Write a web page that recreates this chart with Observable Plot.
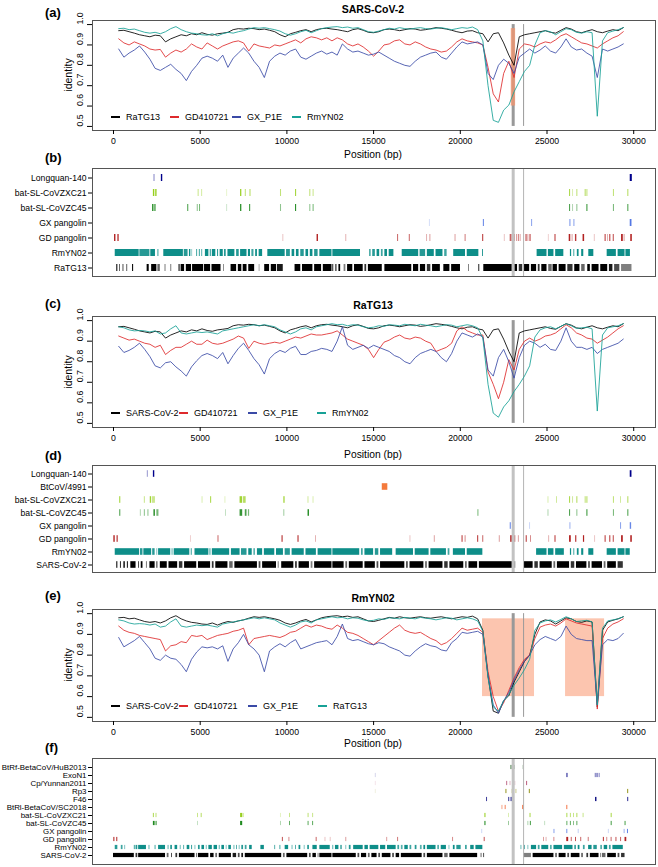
<!DOCTYPE html>
<html>
<head>
<meta charset="utf-8">
<script src="https://cdn.jsdelivr.net/npm/d3@7"></script>
<script src="https://cdn.jsdelivr.net/npm/@observablehq/plot@0.6"></script>
<style>
  html,body{margin:0;padding:0;background:#fff;}
  #fig{position:relative;width:658px;height:867px;overflow:hidden;font-family:"Liberation Sans",Arial,Helvetica,sans-serif;color:#000;}
  .abs{position:absolute;white-space:nowrap;line-height:1;}
  .plab{font-weight:bold;font-size:13px;transform:translateY(-50%);}
  .ptitle{font-weight:bold;font-size:10.5px;transform:translate(-50%,-50%);}
  .xlab{font-size:10.3px;transform:translate(-50%,-50%);}
  .ylab{font-size:10.5px;transform:translate(-50%,-50%) rotate(-90deg);}
  .legtxt{font-size:9px;transform:translateY(-50%);}
  .legline{height:2px;transform:translateY(-50%);}
</style>
</head>
<body>
<div id="fig"></div>
<script>
// ---------------- DATA ----------------
const windowPos = [300,600,900,1200,1500,1800,2100,2400,2700,3000,
3300,3600,3900,4200,4500,4800,5100,5400,5700,6000,
6300,6600,6900,7200,7500,7800,8100,8400,8700,9000,
9300,9600,9900,10200,10500,10800,11100,11400,11700,12000,
12300,12600,12900,13200,13500,13800,14100,14400,14700,15000,
15300,15600,15900,16200,16500,16800,17100,17400,17700,18000,
18300,18600,18900,19200,19500,19800,20100,20400,20700,21000,
21300,21600,21900,22200,22500,22800,23100,23400,23700,24000,
24300,24600,24900,25200,25500,25800,26100,26400,26700,27000,
27300,27600,27900,28200,28500,28800,29100,29400];

// SARS-CoV-2 vs RaTG13
const idSARS2_RaTG13 = [0.970,0.972,0.965,0.958,0.950,0.945,0.940,0.948,0.945,0.915,
0.930,0.940,0.950,0.945,0.955,0.950,0.960,0.952,0.948,0.955,
0.958,0.962,0.975,0.980,0.978,0.982,0.980,0.975,0.978,0.972,
0.965,0.950,0.940,0.955,0.962,0.970,0.975,0.965,0.975,0.980,
0.982,0.978,0.975,0.970,0.965,0.975,0.980,0.972,0.962,0.960,
0.965,0.975,0.978,0.975,0.970,0.975,0.980,0.978,0.972,0.975,
0.980,0.985,0.982,0.978,0.972,0.965,0.960,0.968,0.970,0.960,
0.955,0.915,0.955,0.960,0.910,0.850,0.800,0.940,0.950,0.955,
0.960,0.965,0.970,0.962,0.958,0.972,0.985,0.978,0.965,0.960,
0.968,0.975,0.965,0.960,0.968,0.975,0.970,0.985];
// SARS-CoV-2 vs RmYN02
const idSARS2_RmYN02 = [0.980,0.982,0.975,0.978,0.970,0.962,0.958,0.962,0.955,0.965,
0.980,0.990,0.975,0.965,0.958,0.955,0.950,0.948,0.955,0.945,
0.955,0.962,0.958,0.965,0.970,0.978,0.985,0.982,0.985,0.980,
0.975,0.968,0.955,0.948,0.955,0.965,0.972,0.960,0.970,0.980,
0.985,0.988,0.990,0.985,0.988,0.982,0.985,0.975,0.965,0.962,
0.968,0.975,0.982,0.978,0.985,0.980,0.978,0.982,0.985,0.980,
0.978,0.982,0.985,0.980,0.975,0.980,0.985,0.982,0.988,0.975,
0.920,0.700,0.530,0.520,0.580,0.605,0.670,0.720,0.770,0.800,
0.900,0.960,0.970,0.965,0.950,0.965,0.980,0.975,0.962,0.958,
0.965,0.960,0.550,0.920,0.960,0.968,0.975,0.985];
// SARS-CoV-2 vs GD410721
const idSARS2_GD = [0.930,0.910,0.900,0.915,0.905,0.895,0.880,0.875,0.878,0.840,
0.860,0.875,0.865,0.880,0.905,0.890,0.880,0.910,0.895,0.880,
0.895,0.905,0.915,0.920,0.910,0.870,0.905,0.895,0.890,0.885,
0.900,0.895,0.905,0.915,0.925,0.910,0.930,0.940,0.935,0.925,
0.935,0.920,0.935,0.925,0.905,0.895,0.905,0.890,0.870,0.845,
0.870,0.900,0.905,0.920,0.925,0.905,0.900,0.915,0.905,0.890,
0.880,0.875,0.865,0.870,0.890,0.915,0.930,0.920,0.915,0.910,
0.900,0.790,0.660,0.620,0.760,0.820,0.740,0.880,0.905,0.900,
0.890,0.905,0.915,0.910,0.925,0.945,0.955,0.940,0.925,0.910,
0.905,0.895,0.885,0.905,0.920,0.935,0.945,0.965];
// SARS-CoV-2 vs GX_P1E
const idSARS2_GX = [0.880,0.840,0.860,0.875,0.895,0.865,0.830,0.785,0.775,0.790,
0.805,0.780,0.760,0.725,0.770,0.800,0.835,0.845,0.835,0.820,
0.850,0.790,0.835,0.860,0.885,0.860,0.820,0.790,0.740,0.820,
0.845,0.860,0.850,0.870,0.880,0.840,0.830,0.845,0.860,0.870,
0.855,0.865,0.850,0.905,0.880,0.865,0.870,0.860,0.850,0.855,
0.865,0.850,0.835,0.820,0.810,0.800,0.795,0.820,0.840,0.850,
0.860,0.865,0.840,0.830,0.860,0.890,0.915,0.905,0.910,0.915,
0.900,0.760,0.730,0.800,0.830,0.810,0.760,0.840,0.860,0.880,
0.860,0.875,0.895,0.870,0.860,0.890,0.930,0.890,0.875,0.880,
0.860,0.845,0.740,0.880,0.870,0.880,0.890,0.905];
// RaTG13 vs GD410721
const idRaTG13_GD = [0.925,0.915,0.905,0.910,0.900,0.890,0.885,0.870,0.880,0.835,
0.855,0.870,0.870,0.885,0.900,0.885,0.885,0.905,0.890,0.885,
0.890,0.900,0.910,0.925,0.915,0.865,0.900,0.890,0.885,0.890,
0.895,0.890,0.900,0.910,0.920,0.915,0.925,0.935,0.930,0.930,
0.935,0.940,0.950,0.930,0.910,0.900,0.890,0.880,0.860,0.820,
0.860,0.895,0.905,0.920,0.930,0.915,0.910,0.920,0.915,0.900,
0.890,0.850,0.860,0.870,0.890,0.950,0.970,0.950,0.940,0.930,
0.930,0.750,0.690,0.620,0.700,0.810,0.760,0.860,0.900,0.915,
0.900,0.910,0.925,0.930,0.940,0.960,0.980,0.965,0.940,0.930,
0.915,0.910,0.890,0.905,0.920,0.940,0.960,0.975];
// RaTG13 vs GX_P1E
const idRaTG13_GX = [0.875,0.845,0.855,0.870,0.890,0.860,0.825,0.780,0.770,0.795,
0.800,0.775,0.755,0.730,0.775,0.805,0.830,0.840,0.830,0.815,
0.845,0.790,0.830,0.865,0.890,0.855,0.815,0.785,0.740,0.815,
0.840,0.855,0.845,0.865,0.875,0.835,0.835,0.850,0.855,0.865,
0.860,0.850,0.900,0.970,0.880,0.860,0.870,0.880,0.865,0.880,
0.870,0.860,0.850,0.830,0.820,0.800,0.790,0.820,0.840,0.850,
0.860,0.850,0.820,0.800,0.840,0.900,0.940,0.930,0.920,0.935,
0.920,0.760,0.730,0.820,0.860,0.800,0.720,0.820,0.880,0.900,
0.890,0.870,0.885,0.860,0.855,0.900,0.965,0.900,0.870,0.870,
0.860,0.870,0.840,0.860,0.870,0.880,0.890,0.910];
// RaTG13 vs RmYN02
const idRaTG13_RmYN02 = [0.970,0.965,0.955,0.950,0.952,0.950,0.945,0.950,0.935,0.940,
0.960,0.975,0.940,0.935,0.940,0.945,0.942,0.945,0.940,0.935,
0.950,0.955,0.960,0.965,0.970,0.975,0.980,0.975,0.980,0.975,
0.970,0.955,0.945,0.935,0.945,0.960,0.965,0.955,0.970,0.975,
0.980,0.985,0.980,0.982,0.975,0.980,0.978,0.970,0.965,0.968,
0.975,0.972,0.980,0.978,0.975,0.982,0.978,0.975,0.982,0.978,
0.975,0.970,0.975,0.980,0.978,0.970,0.975,0.980,0.975,0.965,
0.915,0.690,0.550,0.530,0.580,0.610,0.655,0.690,0.730,0.780,
0.920,0.955,0.965,0.970,0.960,0.972,0.985,0.975,0.962,0.965,
0.968,0.960,0.560,0.930,0.965,0.970,0.975,0.985];
// RmYN02 vs GD410721
const idRmYN02_GD = [0.940,0.920,0.910,0.905,0.895,0.890,0.885,0.880,0.875,0.820,
0.845,0.850,0.865,0.860,0.895,0.890,0.895,0.875,0.885,0.895,
0.900,0.905,0.915,0.920,0.930,0.850,0.880,0.885,0.890,0.895,
0.890,0.885,0.895,0.910,0.915,0.930,0.945,0.935,0.945,0.940,
0.930,0.925,0.945,0.930,0.910,0.905,0.895,0.880,0.865,0.850,
0.870,0.890,0.910,0.930,0.945,0.920,0.910,0.905,0.910,0.895,
0.880,0.870,0.850,0.860,0.880,0.905,0.930,0.920,0.925,0.930,
0.910,0.720,0.600,0.530,0.570,0.630,0.690,0.740,0.780,0.800,
0.880,0.935,0.945,0.950,0.940,0.955,0.975,0.965,0.955,0.950,
0.945,0.940,0.540,0.880,0.930,0.950,0.960,0.975];
// RmYN02 vs GX_P1E
const idRmYN02_GX = [0.885,0.840,0.855,0.870,0.890,0.860,0.830,0.785,0.775,0.800,
0.785,0.780,0.755,0.720,0.780,0.815,0.840,0.835,0.840,0.830,
0.845,0.770,0.830,0.860,0.900,0.850,0.830,0.800,0.720,0.820,
0.840,0.855,0.840,0.860,0.875,0.830,0.840,0.850,0.860,0.865,
0.870,0.850,0.890,0.950,0.880,0.870,0.875,0.865,0.855,0.850,
0.860,0.855,0.840,0.830,0.820,0.800,0.795,0.820,0.840,0.855,
0.845,0.840,0.825,0.820,0.860,0.880,0.910,0.905,0.910,0.915,
0.900,0.700,0.560,0.520,0.580,0.620,0.680,0.730,0.770,0.800,
0.850,0.875,0.890,0.880,0.870,0.890,0.940,0.900,0.880,0.875,
0.870,0.870,0.560,0.850,0.875,0.870,0.880,0.905];

const xTicks = [0,5000,10000,15000,20000,25000,30000];
const yTicks = [0.5,0.6,0.7,0.8,0.9,1.0];
const markerPositions = [23050, 23650];   // grey vertical markers (thick, thin)
const markerSpan = [0.5, 1.0];
const regionsA = [[22940, 23190]];
const regionsE = [[21280, 24280], [26070, 28320]];
const regionSpanA = [0.6, 0.98];
const regionSpanE = [0.6, 0.975];

// barcode panels: [start, end, shade]
const rowsB = ["Longquan-140","bat-SL-CoVZXC21","bat-SL-CoVZC45","GX pangolin","GD pangolin","RmYN02","RaTG13"];
const segB = {
 "Longquan-140": [[2330,2400,0.4],[2760,2840,1],[29800,29920,1]],
 "bat-SL-CoVZXC21": [[2300,2380,1],[2420,2520,0.8],[4880,4940,0.5],[5080,5140,0.4],[6530,6580,0.25],[7330,7400,1],[7600,7660,0.6],[7870,7930,0.7],[9630,9690,0.6],[10500,10560,0.9],[11320,11380,0.6],[11510,11570,0.5],[26300,26360,0.8],[26480,26530,0.4],[26720,26780,0.6],[27200,27260,0.7],[27300,27360,0.6],[28830,28890,0.6],[29660,29720,0.7]],
 "bat-SL-CoVZC45": [[2250,2330,0.9],[2350,2470,0.6],[4280,4340,0.8],[4830,4890,0.5],[4960,5020,0.6],[6530,6580,0.25],[7330,7400,1],[7850,7910,0.9],[9630,9690,0.5],[10500,10560,1],[11320,11380,0.5],[11510,11570,0.6],[26300,26360,0.8],[26480,26530,0.4],[26720,26780,0.5],[27300,27360,0.9],[28830,28890,0.6],[29660,29720,0.8]],
 "GX pangolin": [[18220,18270,0.25],[21330,21390,0.8],[23020,23080,0.8],[24110,24170,0.6],[26320,26380,0.7],[26550,26610,0.6],[29800,29900,0.9]],
 "GD pangolin": [[60,140,1],[250,330,0.9],[9770,9820,0.3],[11740,11820,1],[13400,13450,0.4],[16390,16440,0.8],[17060,17110,0.8],[18060,18110,0.4],[18250,18300,0.5],[19700,19750,0.5],[20280,20330,0.7],[21290,21350,0.9],[22540,22590,0.3],[22880,22940,0.9],[22980,23060,0.8],[23120,23180,0.6],[23250,23300,0.5],[23350,23400,0.7],[23450,23510,0.4],[23790,23850,0.9],[23900,23950,0.5],[24020,24080,0.9],[25080,25120,0.3],[25460,25520,0.9],[26280,26370,1],[26450,26500,0.5],[26640,26720,0.9],[27080,27170,1],[27730,27780,0.3],[28350,28410,0.9],[28500,28540,0.5],[28620,28680,0.9],[28820,28880,0.8],[29300,29400,1],[29450,29500,0.5],[29830,29920,1]],
 "RmYN02": [[100,1480,1],[1520,2100,0.9],[2150,2420,1],[2560,2620,0.8],[2900,4030,1],[4080,4300,0.9],[4380,4460,1],[4530,4560,0.8],[4800,4850,0.9],[4950,5010,0.8],[5100,5140,1],[5300,5500,1],[5580,5640,0.9],[5700,5900,1],[6000,6060,0.9],[6150,6330,1],[6400,6500,0.9],[6600,7000,1],[7100,7250,0.9],[7330,7700,1],[7780,7900,1],[7980,8100,0.8],[8200,8300,1],[8400,8600,1],[8900,9900,1],[9980,10200,0.9],[10300,10450,1],[10550,10700,1],[10800,11000,0.9],[11100,11250,1],[11350,11500,1],[11600,11800,0.9],[11900,12600,1],[12650,14244,1],[14780,14850,1],[14950,15100,0.9],[15200,15350,1],[15450,15550,0.8],[15650,15800,1],[15900,16170,1],[16650,17600,1],[17680,18000,0.9],[18100,18500,1],[18600,19000,1],[19100,19240,0.8],[19620,20300,1],[20400,21070,1],[21280,21330,1],[24430,25000,1],[25080,25400,1],[25500,25970,1],[26350,26420,1],[26550,26600,0.9],[26750,26850,1],[27000,27120,1],[27410,27700,1],[28470,29000,1],[29100,29500,1],[29550,29810,1]],
 "RaTG13": [[190,250,1],[350,400,0.7],[550,600,0.8],[760,820,0.6],[1100,1160,1],[1940,2060,1],[2200,2500,1],[2560,2700,0.6],[2950,3050,0.3],[3300,3360,0.5],[3780,3840,1],[3900,4100,1],[4200,4500,1],[4560,5200,1],[5250,5600,1],[5680,6200,1],[6350,6400,0.5],[6780,7100,1],[7200,7400,1],[7480,7700,1],[7800,8140,1],[8400,8450,0.4],[8720,9000,1],[9100,9400,1],[9450,9790,0.9],[10470,10800,1],[10900,11500,1],[11600,12000,1],[12100,12600,1],[12650,12700,1],[12800,12900,0.6],[13000,13100,1],[13300,13400,0.5],[13500,13800,1],[13900,14400,1],[14500,14600,0.8],[14700,15500,1],[15650,17200,1],[17300,17600,1],[17700,18000,1],[18100,18300,0.8],[18400,18850,1],[19050,19400,1],[19500,20010,1],[20480,20520,0.7],[21070,21120,1],[21355,23000,1],[23100,23300,1],[23400,23600,0.8],[23700,24000,1],[24100,24400,1],[24500,24600,0.8],[24700,25000,1],[25100,25300,0.6],[25350,25600,1],[25700,26100,1],[26200,26500,0.8],[26600,26900,1],[27000,27200,0.6],[27350,27500,1],[27600,28000,1],[28100,28500,1],[28600,28800,0.9],[28900,29200,0.7],[29300,29900,0.5]]
};

const rowsD = ["Longquan-140","BtCoV/4991","bat-SL-CoVZXC21","bat-SL-CoVZC45","GX pangolin","GD pangolin","RmYN02","SARS-CoV-2"];
const segD = {
 "Longquan-140": [[1950,2010,0.4],[2300,2380,1],[29800,29900,1]],
 "BtCoV/4991": [[15500,15820,1]],
 "bat-SL-CoVZXC21": [[360,420,0.9],[1780,1830,0.6],[2120,2200,0.9],[2250,2420,0.5],[5110,5160,0.4],[5600,5660,0.8],[6430,6480,0.3],[7300,7450,0.9],[7500,7650,0.7],[9820,9900,0.8],[11220,11270,0.5],[11510,11560,0.4],[25060,25110,0.4],[25550,25600,0.5],[26300,26360,0.8],[26480,26530,0.5],[26720,26780,0.7],[27200,27260,0.6],[27300,27360,0.7],[28830,28890,0.6],[29240,29290,0.5],[29660,29720,0.7]],
 "bat-SL-CoVZC45": [[360,420,0.8],[1550,1600,0.4],[1780,1830,0.6],[1990,2040,0.6],[2330,2420,0.9],[2500,2620,0.6],[6460,6510,0.3],[7300,7450,0.9],[7600,7700,0.8],[7780,7850,0.6],[9820,9880,0.4],[11220,11300,1],[21020,21070,0.7],[25060,25110,0.4],[26300,26360,0.8],[26720,26780,0.5],[27300,27360,0.9],[28830,28890,0.6],[29660,29720,0.8]],
 "GX pangolin": [[22880,22940,0.8],[23020,23080,0.6],[24000,24050,0.3],[26320,26380,0.5],[29240,29300,0.6],[29800,29880,0.8]],
 "GD pangolin": [[20,100,1],[200,280,0.8],[4440,4480,0.3],[6030,6080,0.8],[9720,9780,1],[10640,10700,1],[11650,11700,0.4],[17100,17150,0.3],[18500,18560,0.4],[20100,20160,0.9],[20280,20330,0.6],[21000,21060,0.9],[21300,21350,0.8],[22250,22300,0.5],[22900,23000,0.9],[23100,23200,0.7],[23350,23400,0.5],[23800,23860,0.9],[24050,24100,0.6],[25100,25150,0.4],[25460,25520,0.9],[26300,26400,1],[26650,26720,0.9],[27100,27170,1],[27750,27800,0.3],[28350,28410,0.9],[28620,28680,0.9],[28820,28880,0.8],[29300,29400,1],[29830,29920,1]],
 "RmYN02": [[100,1500,1],[1550,1700,0.9],[1750,2200,1],[2260,2400,0.9],[2500,2550,0.6],[2600,3300,1],[3380,3430,0.8],[3500,4400,1],[4480,4550,0.7],[4700,5500,1],[5560,5620,0.8],[5700,6700,1],[6800,7300,1],[7380,7700,0.9],[7800,8000,1],[8100,8180,0.8],[8300,8600,1],[8700,9300,1],[9400,9800,1],[9900,10200,0.9],[10300,11000,1],[11100,11700,1],[11800,12600,1],[12650,14200,1],[14300,14400,0.8],[14500,15000,1],[15100,15300,0.9],[15400,16100,1],[16300,17300,1],[17400,18200,1],[18300,19200,1],[19300,19400,0.8],[19600,20300,1],[20400,21300,1],[24400,25000,1],[25080,25400,1],[25500,26000,1],[26350,26420,1],[26550,26600,0.9],[26750,26850,1],[27000,27120,1],[27410,27700,1],[28470,29000,1],[29100,29500,1],[29550,29800,1]],
 "SARS-CoV-2": [[190,250,1],[400,460,0.8],[600,680,1],[800,860,0.9],[1000,1300,1],[1450,1500,0.8],[1600,1700,1],[1900,1950,0.6],[2100,2400,1],[2500,2560,0.8],[2700,3100,1],[3200,3700,1],[3800,4000,0.8],[4100,4800,1],[4900,5600,1],[5700,5800,0.8],[5900,6600,1],[6700,6900,0.6],[7000,8300,1],[8400,8500,0.7],[8600,9400,1],[9500,9550,0.6],[9700,10400,1],[10500,10600,0.8],[10700,11300,1],[11400,11500,0.5],[11600,12600,1],[12650,13300,1],[13400,13500,0.6],[13600,14400,1],[14500,15100,1],[15200,15300,0.7],[15400,16800,1],[16900,17000,0.7],[17100,17900,1],[18000,18100,0.6],[18200,19000,1],[19100,19300,0.8],[19400,20200,1],[20300,20400,0.6],[20500,21000,1],[21100,23000,1],[23100,23200,0.5],[23700,24200,1],[24300,24500,0.8],[24600,25300,1],[25400,25500,0.6],[25600,26300,1],[26400,26600,0.8],[26700,27300,1],[27400,27500,0.7],[27600,28200,1],[28300,28400,0.6],[28500,29000,1],[29100,29400,0.8]]
};

const rowsF = ["BtRf-BetaCoV/HuB2013","ExoN1","Cp/Yunnan2011","Rp3","F46","BtRl-BetaCoV/SC2018","bat-SL-CoVZXC21","bat-SL-CoVZC45","GX pangolin","GD pangolin","RmYN02","SARS-CoV-2"];
const segF = {
 "BtRf-BetaCoV/HuB2013": [[22900,23000,0.7],[23050,23180,0.5],[23600,23650,0.3]],
 "ExoN1": [[15100,15150,0.2],[26150,26210,1],[27780,27850,0.5],[27880,27950,0.7],[28000,28080,0.4]],
 "Cp/Yunnan2011": [[15100,15150,0.15],[22680,22730,0.8],[22870,22920,0.4],[23150,23200,0.3],[23830,23880,0.9]],
 "Rp3": [[15100,15150,0.15],[22630,22690,0.9],[22980,23050,0.4],[23200,23270,0.4],[23980,24040,0.9],[29650,29710,0.9]],
 "F46": [[21520,21570,0.9],[22790,22850,0.8],[22930,22990,1],[27800,27880,1],[29660,29710,1]],
 "BtRl-BetaCoV/SC2018": [[22400,22460,0.6],[22580,22660,0.6],[23600,23680,1],[26140,26200,0.9]],
 "bat-SL-CoVZXC21": [[2300,2350,0.9],[2450,2510,0.6],[4850,4900,0.6],[5050,5130,0.5],[7330,7450,1],[7480,7530,0.6],[9630,9680,0.3],[10150,10200,0.6],[11220,11280,0.6],[11480,11540,0.5],[21420,21480,1],[22780,22830,0.4],[24020,24080,0.8],[26150,26200,0.9],[26350,26400,0.7],[26530,26580,0.6],[26720,26780,0.7],[27080,27140,0.5],[28700,28760,0.8]],
 "bat-SL-CoVZC45": [[2300,2400,1],[2450,2520,0.8],[4850,4900,0.3],[7330,7450,1],[9630,9680,0.4],[10150,10200,0.8],[11220,11280,0.7],[11480,11540,0.7],[21420,21480,1],[22780,22830,0.5],[23900,23950,0.4],[24040,24100,0.8],[24870,24920,0.3],[26150,26200,0.8],[26350,26400,0.8],[26530,26580,0.6],[26720,26780,0.7],[28700,28760,0.8],[29500,29560,0.8]],
 "GX pangolin": [[21240,21290,0.3],[25400,25460,0.6],[26140,26200,0.7],[26800,26860,0.3],[28540,28590,0.3],[29450,29500,0.6],[29640,29700,0.8]],
 "GD pangolin": [[20,80,1],[180,250,0.8],[9740,9790,0.9],[10120,10170,0.6],[11690,11740,0.8],[12200,12250,0.3],[12500,12550,0.3],[13400,13450,0.5],[15760,15810,0.5],[16390,16440,0.7],[19560,19610,0.6],[21380,21430,0.9],[24800,24850,0.5],[24950,25000,0.4],[25400,25450,0.6],[26140,26250,1],[26400,26450,0.8],[26650,26700,0.9],[26950,27000,0.8],[27380,27430,0.7],[28250,28310,0.9],[28450,28500,0.6],[28700,28750,0.8],[28980,29030,0.9],[29250,29300,0.8],[29500,29600,1]],
 "RmYN02": [[100,250,0.9],[450,550,0.8],[650,700,0.6],[1200,1260,0.8],[1300,1400,0.9],[1450,1900,1],[2050,2100,0.8],[2400,2450,0.9],[2600,3000,1],[3150,3200,0.8],[3300,3400,0.9],[3550,3700,1],[3850,3900,0.7],[4050,4100,0.8],[4250,4400,1],[4500,4560,0.8],[4700,4750,0.6],[4900,5000,0.9],[5100,5250,1],[5350,5400,0.7],[5500,5700,1],[5800,6000,1],[6100,6150,0.8],[6250,6400,1],[6500,6550,0.6],[6650,6800,1],[6950,7000,0.7],[7100,7150,0.8],[7250,7300,0.6],[7400,7500,0.9],[7600,7700,0.8],[7850,8000,1],[8500,8700,1],[9300,9350,0.8],[9600,9650,0.9],[9900,10100,1],[10300,10350,0.7],[10500,10550,0.8],[10700,10800,1],[11000,11050,0.6],[11200,11300,0.9],[11500,11750,1],[11900,12500,1],[12650,12700,0.8],[12800,13000,1],[13100,13200,0.7],[13400,13450,0.6],[13600,13700,0.9],[13850,14400,1],[14500,14700,1],[14800,15300,1],[15400,15700,1],[15800,16300,1],[16400,16500,0.8],[16600,16700,0.7],[16800,17000,1],[17100,17200,0.8],[17400,17500,0.9],[17700,17800,0.7],[17900,18000,1],[18100,18600,1],[18700,18800,0.7],[18900,19200,1],[19350,19400,0.6],[19600,19700,1],[19800,20050,0.9],[20300,20400,0.8],[20600,20800,1],[20900,21300,1],[23500,23550,0.7],[23700,23750,0.8],[23900,23950,0.6],[24100,24400,1],[24500,24600,0.8],[24700,25100,1],[25200,25300,0.7],[25400,25900,1],[26000,26500,1],[26600,26700,0.8],[26800,26900,1],[27100,27200,0.8],[27400,27600,1],[27700,27900,0.9],[28100,28200,0.7],[28300,28500,1],[28600,28700,0.8],[28800,29400,1]],
 "SARS-CoV-2": [[0,1200,1],[1300,1400,0.8],[1450,3000,1],[3100,3200,0.6],[3350,3400,0.8],[3600,3700,0.8],[3800,4700,1],[4800,4850,0.7],[4900,5500,1],[5600,5800,1],[5900,6000,0.6],[6100,6800,1],[6900,7100,0.9],[7200,7300,0.7],[7400,7500,0.9],[7600,9700,1],[9800,9900,0.6],[10000,11200,1],[11300,11400,0.7],[11500,11700,1],[11800,11850,0.6],[11900,12600,1],[12650,14000,1],[14100,14200,0.7],[14300,14600,1],[14700,14800,0.6],[14900,15200,1],[15300,15400,0.7],[15500,16000,1],[16100,16200,0.7],[16300,16500,1],[16600,17800,1],[17900,18000,0.7],[18100,19000,1],[19100,19300,0.6],[19400,21000,1],[21200,21250,0.7],[21350,21400,0.8],[23650,24100,0.5],[24200,25400,1],[25500,25600,0.6],[25700,26100,1],[26200,26300,0.7],[26400,26900,1],[27000,27100,0.6],[27300,27400,0.8],[27500,28000,1],[28100,28150,0.6],[28200,28400,0.6],[28500,29000,1],[29100,29200,0.7],[29300,29500,0.8]]
};

const rowColors = {
 "Longquan-140": "#00008B", "BtCoV/4991": "#F47A3C", "bat-SL-CoVZXC21": "#97CF1E", "bat-SL-CoVZC45": "#1F8A1F",
 "GX pangolin": "#4169E1", "GD pangolin": "#B22222", "RmYN02": "#0E8E89", "RaTG13": "#000000", "SARS-CoV-2": "#000000",
 "BtRf-BetaCoV/HuB2013": "#5E8C5E", "ExoN1": "#1A1A90", "Cp/Yunnan2011": "#A8305A", "Rp3": "#8E8E10", "F46": "#0A0A80",
 "BtRl-BetaCoV/SC2018": "#F26B3A"
};
const lineColors = {black:"#000000", red:"#DE2A2C", blue:"#3A4AA6", teal:"#17A196"};

// ---------------- DRAWING ----------------
const fig = document.getElementById("fig");
const FONT = '"Liberation Sans", Arial, Helvetica, sans-serif';
const X_DOMAIN = [-1211, 31257];

function addText(cls, text, x, y){
  const d = document.createElement("div");
  d.className = "abs " + cls; d.textContent = text;
  d.style.left = x + "px"; d.style.top = y + "px";
  fig.appendChild(d); return d;
}
function placeSvg(svg, top){
  svg.style.position = "absolute"; svg.style.left = "0px"; svg.style.top = top + "px";
  svg.style.overflow = "visible";
  fig.appendChild(svg);
}

function linePanel(cfg){
  const mt = 2, mb = 24;
  const h = cfg.frameBottom - cfg.frameTop;
  const marks = [];
  const regionMark = cfg.regions ? Plot.rect(cfg.regions, {x1: d => d[0], x2: d => d[1], y1: cfg.regionSpan[0], y2: cfg.regionSpan[1], fill: cfg.regionFill, fillOpacity: cfg.regionOpacity}) : null;
  if (regionMark && !cfg.regionOnTop) marks.push(regionMark);
  marks.push(Plot.ruleX([markerPositions[0]], {y1: markerSpan[0], y2: markerSpan[1], stroke: "#999", strokeWidth: 3}));
  marks.push(Plot.ruleX([markerPositions[1]], {y1: markerSpan[0], y2: markerSpan[1], stroke: "#999", strokeWidth: 1}));
  if (regionMark && cfg.regionOnTop) marks.push(regionMark);
  cfg.series.forEach(s => {
    const data = windowPos.map((p, i) => ({pos: p, id: s.values[i]}));
    marks.push(Plot.line(data, {x: "pos", y: "id", stroke: s.color, strokeWidth: 0.85}));
  });
  marks.push(Plot.frame({stroke: "#555"}));
  marks.push(Plot.axisX({ticks: xTicks, tickSize: 4, tickPadding: 3, tickFormat: d => String(d), label: null, fontSize: 8.7}));
  marks.push(Plot.axisY({ticks: yTicks, tickSize: 5, tickFormat: () => "", label: null}));
  marks.push(Plot.text(yTicks, {y: d => d, text: d => d.toFixed(1), frameAnchor: "left", dx: -12, rotate: -90, fontSize: 8.7}));
  const svg = Plot.plot({
    width: 658, height: h + mt + mb, marginTop: mt, marginBottom: mb, marginLeft: 92, marginRight: 3,
    x: {domain: X_DOMAIN}, y: {domain: [0.48, 1.02]},
    style: {fontFamily: FONT, fontSize: "8.7px", background: "transparent", color: "#000"},
    marks
  });
  placeSvg(svg, cfg.frameTop - mt);
  // axis titles
  addText("xlab", "Position (bp)", 373, cfg.xlabY);
  addText("ylab", "identity", 68, (cfg.frameTop + cfg.frameBottom) / 2);
  // legend
  cfg.series.forEach((s, i) => {
    const tx = cfg.legendX[i];
    const ln = document.createElement("div");
    ln.className = "abs legline";
    ln.style.left = (tx - 15) + "px"; ln.style.width = "9px"; ln.style.top = cfg.legendY + "px";
    ln.style.background = s.color;
    fig.appendChild(ln);
    addText("legtxt", s.name, tx, cfg.legendY);
  });
}

function barPanel(cfg){
  const h = cfg.frameBottom - cfg.frameTop;
  const marks = [];
  cfg.rows.forEach(name => {
    const segs = (cfg.segments[name] || []).map(s => ({row: name, start: s[0], end: s[1], shade: s[2]}));
    marks.push(Plot.rect(segs, {x1: "start", x2: "end", y: "row", fill: rowColors[name], fillOpacity: "shade", insetTop: cfg.inset, insetBottom: cfg.inset}));
  });
  marks.push(Plot.ruleX([markerPositions[0]], {stroke: "#c2c2c2", strokeWidth: 3}));
  marks.push(Plot.ruleX([markerPositions[1]], {stroke: "#b5b5b5", strokeWidth: 1}));
  marks.push(Plot.frame({stroke: "#555"}));
  marks.push(Plot.axisY({anchor: "left", tickSize: 4, tickPadding: 2, label: null, fontSize: cfg.fontSize}));
  const svg = Plot.plot({
    width: 658, height: h + 2, marginTop: 1, marginBottom: 1, marginLeft: 92, marginRight: 3,
    x: {domain: X_DOMAIN, axis: null},
    y: {type: "band", domain: cfg.rows, padding: 0},
    opacity: {type: "identity"},
    style: {fontFamily: FONT, fontSize: cfg.fontSize + "px", background: "transparent", color: "#000"},
    marks
  });
  placeSvg(svg, cfg.frameTop - 1);
}

// (a)
addText("plab", "(a)", 45, 12);
addText("ptitle", "SARS-CoV-2", 373, 9);
linePanel({
  frameTop: 20, frameBottom: 130, xlabY: 155, legendY: 117, legendX: [126, 185, 247, 307],
  regions: regionsA, regionSpan: regionSpanA, regionFill: "#EE9570", regionOpacity: 0.8, regionOnTop: true,
  series: [
    {name: "RaTG13", values: idSARS2_RaTG13, color: lineColors.black},
    {name: "GD410721", values: idSARS2_GD, color: lineColors.red},
    {name: "GX_P1E", values: idSARS2_GX, color: lineColors.blue},
    {name: "RmYN02", values: idSARS2_RmYN02, color: lineColors.teal}
  ]
});
// (b)
addText("plab", "(b)", 45, 157);
barPanel({frameTop: 168, frameBottom: 276, rows: rowsB, segments: segB, inset: 4, fontSize: 8.6});
// (c)
addText("plab", "(c)", 45, 303);
addText("ptitle", "RaTG13", 373, 305);
linePanel({
  frameTop: 316, frameBottom: 427, xlabY: 455, legendY: 413, legendX: [126, 194, 263, 332],
  series: [
    {name: "SARS-CoV-2", values: idSARS2_RaTG13, color: lineColors.black},
    {name: "GD410721", values: idRaTG13_GD, color: lineColors.red},
    {name: "GX_P1E", values: idRaTG13_GX, color: lineColors.blue},
    {name: "RmYN02", values: idRaTG13_RmYN02, color: lineColors.teal}
  ]
});
// (d)
addText("plab", "(d)", 45, 455);
barPanel({frameTop: 465, frameBottom: 572, rows: rowsD, segments: segD, inset: 3.2, fontSize: 8.6});
// (e)
addText("plab", "(e)", 45, 595);
addText("ptitle", "RmYN02", 373, 598);
linePanel({
  frameTop: 609, frameBottom: 721, xlabY: 744, legendY: 706, legendX: [126, 194, 263, 333],
  regions: regionsE, regionSpan: regionSpanE, regionFill: "#FCC5AF", regionOpacity: 1, regionOnTop: false,
  series: [
    {name: "SARS-CoV-2", values: idSARS2_RmYN02, color: lineColors.black},
    {name: "GD410721", values: idRmYN02_GD, color: lineColors.red},
    {name: "GX_P1E", values: idRmYN02_GX, color: lineColors.blue},
    {name: "RaTG13", values: idRaTG13_RmYN02, color: lineColors.teal}
  ]
});
// (f)
addText("plab", "(f)", 45, 747);
barPanel({frameTop: 758, frameBottom: 864, rows: rowsF, segments: segF, inset: 1.9, fontSize: 7.9});
</script>
</body>
</html>
